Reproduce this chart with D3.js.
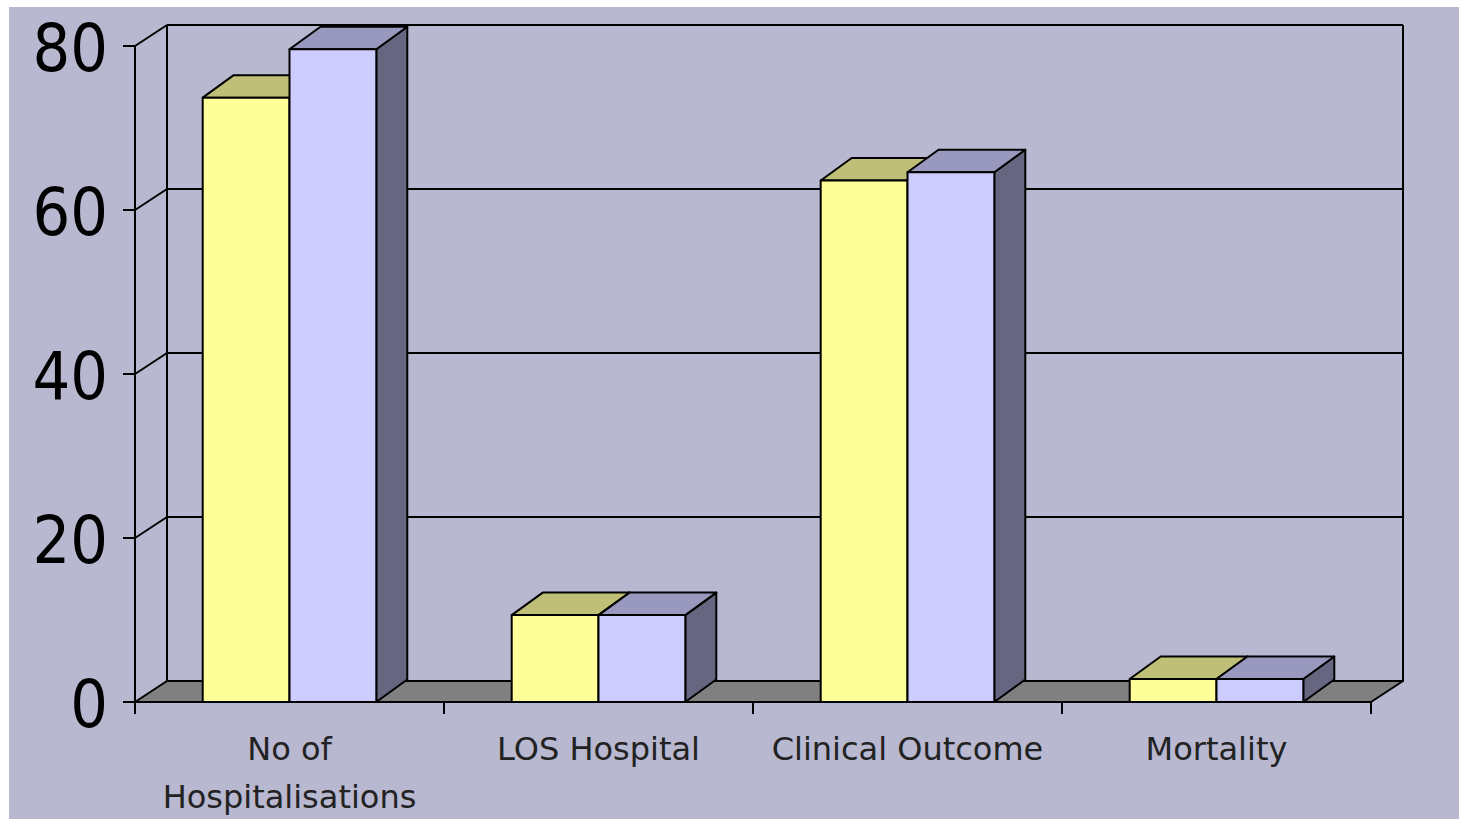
<!DOCTYPE html>
<html>
<head>
<meta charset="utf-8">
<style>
    body{
        margin: 0;
        background: #ffffff;
    }
    svg{
        display: block;
    }
</style>
<script type="text/javascript" src="https://d3js.org/d3.v7.min.js"></script>
</head>
<body>
<svg width="1459" height="819"></svg>
<script>
    // chart data
    var categories = ["No of|Hospitalisations", "LOS Hospital", "Clinical Outcome", "Mortality"];
    var series = ["A", "B"];
    var valuesA = [73.7, 10.6, 63.6, 2.8];
    var valuesB = [79.6, 10.6, 64.6, 2.8];
    var yTicks = [0, 20, 40, 60, 80];

    var frontColors = ["#ffff99", "#ccccff"];
    var topColors = ["#bfbf77", "#9999bf"];
    var sideColors = ["#9f9f60", "#666680"];

    var svg = d3.select("svg");

    svg.append("rect")
        .attr("x", 9).attr("y", 7)
        .attr("width", 1450).attr("height", 812)
        .attr("fill", "#b8b8d0");

    var left = 135, right = 1371;
    var wallDX = 32, wallDY = -21;
    var barDX = 31, barDY = -22.5;

    var y = d3.scaleLinear().domain([0, 80]).range([702, 46]);
    var x = d3.scaleBand().domain(categories).range([left, right]).padding(0);
    var xs = d3.scaleBand().domain(series).range([0, x.bandwidth()])
        .paddingInner(0).paddingOuter(0.78);

    var line = function(x1, y1, x2, y2, w)
    {
        svg.append("line")
            .attr("x1", x1).attr("y1", y1)
            .attr("x2", x2).attr("y2", y2)
            .attr("stroke", "#000").attr("stroke-width", w || 2);
    }

    var poly = function(pts, fill)
    {
        svg.append("polygon")
            .attr("points", pts.map(function(p){ return p.join(","); }).join(" "))
            .attr("fill", fill)
            .attr("stroke", "#000")
            .attr("stroke-width", 2)
            .attr("stroke-linejoin", "round");
    }

    // back wall gridlines + left wall diagonals
    yTicks.forEach(function(t)
    {
        if(t == 0) return;
        line(left + wallDX, y(t) + wallDY, right + wallDX, y(t) + wallDY);
        line(left, y(t), left + wallDX, y(t) + wallDY);
    });
    // back wall edges
    line(left + wallDX, y(80) + wallDY, left + wallDX, y(0) + wallDY);
    line(right + wallDX, y(80) + wallDY, right + wallDX, y(0) + wallDY);

    // floor
    poly([[left, y(0)], [right, y(0)], [right + wallDX, y(0) + wallDY], [left + wallDX, y(0) + wallDY]], "#808080");

    // front y axis
    line(left, y(80), left, y(0));
    yTicks.forEach(function(t)
    {
        line(left - 12, y(t), left, y(t));
        svg.append("text")
            .attr("transform", "translate(108," + (y(t) + 25) + ") scale(0.9,1)")
            .attr("text-anchor", "end")
            .attr("font-family", "DejaVu Sans")
            .attr("font-size", 66)
            .attr("fill", "#000")
            .text(t);
    });

    // x axis ticks
    line(left, y(0), right, y(0));
    var bounds = categories.map(function(c){ return x(c); }).concat([right]);
    bounds.forEach(function(b)
    {
        line(b, y(0), b, y(0) + 12);
    });

    // bars
    categories.forEach(function(c, i)
    {
        var vals = [valuesA[i], valuesB[i]];
        series.forEach(function(s, j)
        {
            var x0 = x(c) + xs(s);
            var x1 = x0 + xs.bandwidth();
            var yt = y(vals[j]);
            var yb = y(0);
            // side
            poly([[x1, yb], [x1 + barDX, yb + barDY], [x1 + barDX, yt + barDY], [x1, yt]], sideColors[j]);
            // top
            poly([[x0, yt], [x0 + barDX, yt + barDY], [x1 + barDX, yt + barDY], [x1, yt]], topColors[j]);
            // front
            poly([[x0, yb], [x0, yt], [x1, yt], [x1, yb]], frontColors[j]);
        });
    });

    // category labels
    categories.forEach(function(c)
    {
        var lines = c.split("|");
        var t = svg.append("text")
            .attr("x", x(c) + x.bandwidth() / 2)
            .attr("y", 760)
            .attr("text-anchor", "middle")
            .attr("font-family", "DejaVu Sans")
            .attr("font-size", 32)
            .attr("fill", "#222");
        lines.forEach(function(l, k)
        {
            t.append("tspan")
                .attr("x", x(c) + x.bandwidth() / 2)
                .attr("dy", k == 0 ? 0 : 48)
                .text(l);
        });
    });
</script>
</body>
</html>
